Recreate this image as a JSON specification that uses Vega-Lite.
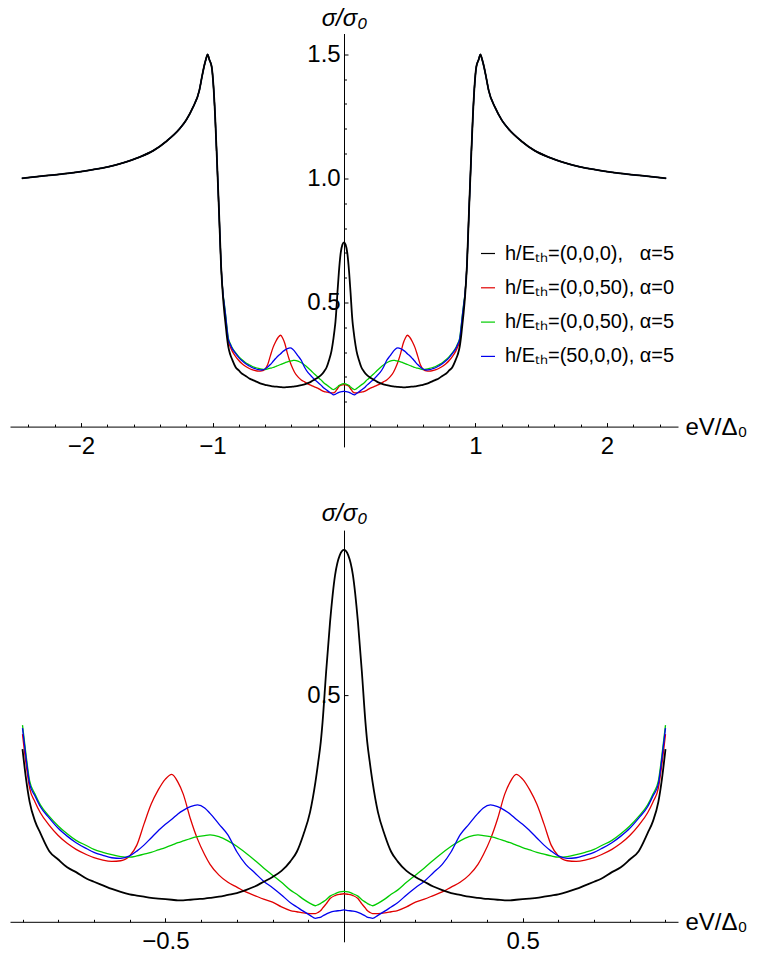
{
  "$schema": "https://vega.github.io/schema/vega-lite/v6.json",
  "autosize": {"type": "pad"},
  "padding": {"left": 10, "top": 5.5, "right": 5, "bottom": 5},
  "background": "white",
  "config": {
    "view": {"stroke": null},
    "font": "Liberation Sans",
    "axis": {"labelFont": "Liberation Sans", "titleFont": "Liberation Sans", "labelFontSize": 24, "labelColor": "black", "domainColor": "black", "tickColor": "black", "grid": false, "domainWidth": 1, "tickWidth": 1, "titleColor": "black", "titleFontWeight": "normal", "titleFontSize": 24}
  },
  "datasets": {
    "curves": [
      {"x": -2.45, "k": 1.0, "r": 1.0, "g": 1.0, "b": 1.0},
      {"x": -2.3, "k": 1.009, "r": 1.009, "g": 1.009, "b": 1.009},
      {"x": -2.1, "k": 1.02, "r": 1.02, "g": 1.02, "b": 1.02},
      {"x": -1.9, "k": 1.036, "r": 1.036, "g": 1.036, "b": 1.036},
      {"x": -1.7, "k": 1.06, "r": 1.06, "g": 1.06, "b": 1.06},
      {"x": -1.55, "k": 1.087, "r": 1.087, "g": 1.087, "b": 1.087},
      {"x": -1.45, "k": 1.112, "r": 1.112, "g": 1.112, "b": 1.112},
      {"x": -1.35, "k": 1.15, "r": 1.15, "g": 1.15, "b": 1.15},
      {"x": -1.25, "k": 1.2, "r": 1.2, "g": 1.2, "b": 1.2},
      {"x": -1.2, "k": 1.235, "r": 1.235, "g": 1.235, "b": 1.235},
      {"x": -1.15, "k": 1.285, "r": 1.285, "g": 1.285, "b": 1.285},
      {"x": -1.1, "k": 1.355, "r": 1.355, "g": 1.355, "b": 1.355},
      {"x": -1.08, "k": 1.41, "r": 1.41, "g": 1.41, "b": 1.41},
      {"x": -1.065, "k": 1.449, "r": 1.449, "g": 1.449, "b": 1.449},
      {"x": -1.05, "k": 1.48, "r": 1.48, "g": 1.48, "b": 1.48},
      {"x": -1.037, "k": 1.5, "r": 1.5, "g": 1.5, "b": 1.5},
      {"x": -1.025, "k": 1.48, "r": 1.48, "g": 1.48, "b": 1.48},
      {"x": -1.006, "k": 1.449, "r": 1.449, "g": 1.449, "b": 1.449},
      {"x": -0.994, "k": 1.382, "r": 1.382, "g": 1.382, "b": 1.382},
      {"x": -0.98, "k": 1.25, "r": 1.25, "g": 1.25, "b": 1.25},
      {"x": -0.965, "k": 1.06, "r": 1.06, "g": 1.06, "b": 1.06},
      {"x": -0.95, "k": 0.86, "r": 0.86, "g": 0.86, "b": 0.86},
      {"x": -0.935, "k": 0.65, "r": 0.65, "g": 0.65, "b": 0.65},
      {"x": -0.92, "k": 0.52, "r": 0.53, "g": 0.535, "b": 0.535},
      {"x": -0.91, "k": 0.46, "r": 0.48, "g": 0.495, "b": 0.49},
      {"x": -0.9, "k": 0.41, "r": 0.435, "g": 0.45, "b": 0.445},
      {"x": -0.89, "k": 0.36, "r": 0.385, "g": 0.4, "b": 0.395},
      {"x": -0.88, "k": 0.322, "r": 0.345, "g": 0.357, "b": 0.352},
      {"x": -0.865, "k": 0.29, "r": 0.322, "g": 0.335, "b": 0.332},
      {"x": -0.85, "k": 0.27, "r": 0.304, "g": 0.317, "b": 0.314},
      {"x": -0.825, "k": 0.24, "r": 0.283, "g": 0.298, "b": 0.295},
      {"x": -0.8, "k": 0.226, "r": 0.266, "g": 0.282, "b": 0.278},
      {"x": -0.775, "k": 0.213, "r": 0.253, "g": 0.269, "b": 0.265},
      {"x": -0.75, "k": 0.205, "r": 0.243, "g": 0.258, "b": 0.254},
      {"x": -0.72, "k": 0.194, "r": 0.234, "g": 0.249, "b": 0.244},
      {"x": -0.7, "k": 0.189, "r": 0.229, "g": 0.243, "b": 0.238},
      {"x": -0.675, "k": 0.183, "r": 0.225, "g": 0.238, "b": 0.233},
      {"x": -0.65, "k": 0.177, "r": 0.223, "g": 0.234, "b": 0.229},
      {"x": -0.625, "k": 0.172, "r": 0.224, "g": 0.231, "b": 0.228},
      {"x": -0.6, "k": 0.168, "r": 0.232, "g": 0.23, "b": 0.232},
      {"x": -0.58, "k": 0.166, "r": 0.25, "g": 0.232, "b": 0.24},
      {"x": -0.56, "k": 0.164, "r": 0.285, "g": 0.235, "b": 0.25},
      {"x": -0.54, "k": 0.162, "r": 0.318, "g": 0.238, "b": 0.262},
      {"x": -0.52, "k": 0.161, "r": 0.342, "g": 0.242, "b": 0.274},
      {"x": -0.5, "k": 0.16, "r": 0.36, "g": 0.246, "b": 0.285},
      {"x": -0.482, "k": 0.159, "r": 0.368, "g": 0.25, "b": 0.293},
      {"x": -0.465, "k": 0.158, "r": 0.355, "g": 0.254, "b": 0.302},
      {"x": -0.45, "k": 0.158, "r": 0.335, "g": 0.257, "b": 0.308},
      {"x": -0.43, "k": 0.159, "r": 0.294, "g": 0.261, "b": 0.314},
      {"x": -0.41, "k": 0.16, "r": 0.26, "g": 0.264, "b": 0.317},
      {"x": -0.39, "k": 0.161, "r": 0.234, "g": 0.266, "b": 0.312},
      {"x": -0.375, "k": 0.162, "r": 0.218, "g": 0.267, "b": 0.303},
      {"x": -0.35, "k": 0.164, "r": 0.2, "g": 0.264, "b": 0.285},
      {"x": -0.325, "k": 0.167, "r": 0.188, "g": 0.257, "b": 0.267},
      {"x": -0.3, "k": 0.17, "r": 0.18, "g": 0.248, "b": 0.239},
      {"x": -0.275, "k": 0.175, "r": 0.172, "g": 0.237, "b": 0.218},
      {"x": -0.25, "k": 0.181, "r": 0.166, "g": 0.225, "b": 0.204},
      {"x": -0.225, "k": 0.189, "r": 0.16, "g": 0.212, "b": 0.19},
      {"x": -0.2, "k": 0.197, "r": 0.155, "g": 0.2, "b": 0.179},
      {"x": -0.175, "k": 0.207, "r": 0.147, "g": 0.188, "b": 0.167},
      {"x": -0.15, "k": 0.223, "r": 0.141, "g": 0.175, "b": 0.154},
      {"x": -0.132, "k": 0.239, "r": 0.139, "g": 0.168, "b": 0.147},
      {"x": -0.114, "k": 0.267, "r": 0.137, "g": 0.16, "b": 0.14},
      {"x": -0.095, "k": 0.305, "r": 0.136, "g": 0.153, "b": 0.133},
      {"x": -0.08, "k": 0.355, "r": 0.136, "g": 0.149, "b": 0.128},
      {"x": -0.072, "k": 0.389, "r": 0.138, "g": 0.151, "b": 0.129},
      {"x": -0.065, "k": 0.422, "r": 0.141, "g": 0.153, "b": 0.13},
      {"x": -0.06, "k": 0.455, "r": 0.145, "g": 0.155, "b": 0.132},
      {"x": -0.05, "k": 0.539, "r": 0.152, "g": 0.159, "b": 0.135},
      {"x": -0.039, "k": 0.622, "r": 0.161, "g": 0.165, "b": 0.138},
      {"x": -0.025, "k": 0.7, "r": 0.166, "g": 0.169, "b": 0.14},
      {"x": -0.012, "k": 0.733, "r": 0.168, "g": 0.172, "b": 0.141},
      {"x": 0, "k": 0.742, "r": 0.169, "g": 0.173, "b": 0.142},
      {"x": 0.012, "k": 0.733, "r": 0.168, "g": 0.172, "b": 0.141},
      {"x": 0.025, "k": 0.7, "r": 0.166, "g": 0.169, "b": 0.14},
      {"x": 0.039, "k": 0.622, "r": 0.161, "g": 0.165, "b": 0.138},
      {"x": 0.05, "k": 0.539, "r": 0.152, "g": 0.159, "b": 0.135},
      {"x": 0.06, "k": 0.455, "r": 0.145, "g": 0.155, "b": 0.132},
      {"x": 0.065, "k": 0.422, "r": 0.141, "g": 0.153, "b": 0.13},
      {"x": 0.072, "k": 0.389, "r": 0.138, "g": 0.151, "b": 0.129},
      {"x": 0.08, "k": 0.355, "r": 0.136, "g": 0.149, "b": 0.128},
      {"x": 0.095, "k": 0.305, "r": 0.136, "g": 0.153, "b": 0.133},
      {"x": 0.114, "k": 0.267, "r": 0.137, "g": 0.16, "b": 0.14},
      {"x": 0.132, "k": 0.239, "r": 0.139, "g": 0.168, "b": 0.147},
      {"x": 0.15, "k": 0.223, "r": 0.141, "g": 0.175, "b": 0.154},
      {"x": 0.175, "k": 0.207, "r": 0.147, "g": 0.188, "b": 0.167},
      {"x": 0.2, "k": 0.197, "r": 0.155, "g": 0.2, "b": 0.179},
      {"x": 0.225, "k": 0.189, "r": 0.16, "g": 0.212, "b": 0.19},
      {"x": 0.25, "k": 0.181, "r": 0.166, "g": 0.225, "b": 0.204},
      {"x": 0.275, "k": 0.175, "r": 0.172, "g": 0.237, "b": 0.218},
      {"x": 0.3, "k": 0.17, "r": 0.18, "g": 0.248, "b": 0.239},
      {"x": 0.325, "k": 0.167, "r": 0.188, "g": 0.257, "b": 0.267},
      {"x": 0.35, "k": 0.164, "r": 0.2, "g": 0.264, "b": 0.285},
      {"x": 0.375, "k": 0.162, "r": 0.218, "g": 0.267, "b": 0.303},
      {"x": 0.39, "k": 0.161, "r": 0.234, "g": 0.266, "b": 0.312},
      {"x": 0.41, "k": 0.16, "r": 0.26, "g": 0.264, "b": 0.317},
      {"x": 0.43, "k": 0.159, "r": 0.294, "g": 0.261, "b": 0.314},
      {"x": 0.45, "k": 0.158, "r": 0.335, "g": 0.257, "b": 0.308},
      {"x": 0.465, "k": 0.158, "r": 0.355, "g": 0.254, "b": 0.302},
      {"x": 0.482, "k": 0.159, "r": 0.368, "g": 0.25, "b": 0.293},
      {"x": 0.5, "k": 0.16, "r": 0.36, "g": 0.246, "b": 0.285},
      {"x": 0.52, "k": 0.161, "r": 0.342, "g": 0.242, "b": 0.274},
      {"x": 0.54, "k": 0.162, "r": 0.318, "g": 0.238, "b": 0.262},
      {"x": 0.56, "k": 0.164, "r": 0.285, "g": 0.235, "b": 0.25},
      {"x": 0.58, "k": 0.166, "r": 0.25, "g": 0.232, "b": 0.24},
      {"x": 0.6, "k": 0.168, "r": 0.232, "g": 0.23, "b": 0.232},
      {"x": 0.625, "k": 0.172, "r": 0.224, "g": 0.231, "b": 0.228},
      {"x": 0.65, "k": 0.177, "r": 0.223, "g": 0.234, "b": 0.229},
      {"x": 0.675, "k": 0.183, "r": 0.225, "g": 0.238, "b": 0.233},
      {"x": 0.7, "k": 0.189, "r": 0.229, "g": 0.243, "b": 0.238},
      {"x": 0.72, "k": 0.194, "r": 0.234, "g": 0.249, "b": 0.244},
      {"x": 0.75, "k": 0.205, "r": 0.243, "g": 0.258, "b": 0.254},
      {"x": 0.775, "k": 0.213, "r": 0.253, "g": 0.269, "b": 0.265},
      {"x": 0.8, "k": 0.226, "r": 0.266, "g": 0.282, "b": 0.278},
      {"x": 0.825, "k": 0.24, "r": 0.283, "g": 0.298, "b": 0.295},
      {"x": 0.85, "k": 0.27, "r": 0.304, "g": 0.317, "b": 0.314},
      {"x": 0.865, "k": 0.29, "r": 0.322, "g": 0.335, "b": 0.332},
      {"x": 0.88, "k": 0.322, "r": 0.345, "g": 0.357, "b": 0.352},
      {"x": 0.89, "k": 0.36, "r": 0.385, "g": 0.4, "b": 0.395},
      {"x": 0.9, "k": 0.41, "r": 0.435, "g": 0.45, "b": 0.445},
      {"x": 0.91, "k": 0.46, "r": 0.48, "g": 0.495, "b": 0.49},
      {"x": 0.92, "k": 0.52, "r": 0.53, "g": 0.535, "b": 0.535},
      {"x": 0.935, "k": 0.65, "r": 0.65, "g": 0.65, "b": 0.65},
      {"x": 0.95, "k": 0.86, "r": 0.86, "g": 0.86, "b": 0.86},
      {"x": 0.965, "k": 1.06, "r": 1.06, "g": 1.06, "b": 1.06},
      {"x": 0.98, "k": 1.25, "r": 1.25, "g": 1.25, "b": 1.25},
      {"x": 0.994, "k": 1.382, "r": 1.382, "g": 1.382, "b": 1.382},
      {"x": 1.006, "k": 1.449, "r": 1.449, "g": 1.449, "b": 1.449},
      {"x": 1.025, "k": 1.48, "r": 1.48, "g": 1.48, "b": 1.48},
      {"x": 1.037, "k": 1.5, "r": 1.5, "g": 1.5, "b": 1.5},
      {"x": 1.05, "k": 1.48, "r": 1.48, "g": 1.48, "b": 1.48},
      {"x": 1.065, "k": 1.449, "r": 1.449, "g": 1.449, "b": 1.449},
      {"x": 1.08, "k": 1.41, "r": 1.41, "g": 1.41, "b": 1.41},
      {"x": 1.1, "k": 1.355, "r": 1.355, "g": 1.355, "b": 1.355},
      {"x": 1.15, "k": 1.285, "r": 1.285, "g": 1.285, "b": 1.285},
      {"x": 1.2, "k": 1.235, "r": 1.235, "g": 1.235, "b": 1.235},
      {"x": 1.25, "k": 1.2, "r": 1.2, "g": 1.2, "b": 1.2},
      {"x": 1.35, "k": 1.15, "r": 1.15, "g": 1.15, "b": 1.15},
      {"x": 1.45, "k": 1.112, "r": 1.112, "g": 1.112, "b": 1.112},
      {"x": 1.55, "k": 1.087, "r": 1.087, "g": 1.087, "b": 1.087},
      {"x": 1.7, "k": 1.06, "r": 1.06, "g": 1.06, "b": 1.06},
      {"x": 1.9, "k": 1.036, "r": 1.036, "g": 1.036, "b": 1.036},
      {"x": 2.1, "k": 1.02, "r": 1.02, "g": 1.02, "b": 1.02},
      {"x": 2.3, "k": 1.009, "r": 1.009, "g": 1.009, "b": 1.009},
      {"x": 2.45, "k": 1.0, "r": 1.0, "g": 1.0, "b": 1.0}
    ]
  },
  "bounds": "flush",
  "spacing": 82.6,
  "resolve": {"scale": {"color": "shared"}},
  "vconcat": [
    {
      "width": 668,
      "height": 413.4,
      "data": {"name": "curves"},
      "transform": [{"fold": ["k", "r", "g", "b"], "as": ["s", "v"]}],
      "encoding": {
        "x": {"field": "x", "type": "quantitative",
          "scale": {"domain": [-2.54, 2.54], "nice": false, "zero": false},
          "axis": {
            "orient": "bottom", "offset": -20.3, "title": "eV/Δ₀", "format": ".0f",
            "values": [-2.4, -2.2, -2, -1.8, -1.6, -1.4, -1.2, -1, -0.8, -0.6, -0.4, -0.2, 0.2, 0.4, 0.6, 0.8, 1, 1.2, 1.4, 1.6, 1.8, 2, 2.2, 2.4],
            "labelExpr": "(datum.value == -2 || datum.value == -1 || datum.value == 1 || datum.value == 2) ? datum.label : ''",
            "tickSize": {"condition": {"test": "datum.value == -2 || datum.value == -1 || datum.value == 1 || datum.value == 2", "value": -4}, "value": -2.5},
            "labelPadding": 12, "labelFlush": false, "labelOverlap": false, "labelBound": false,
            "titleX": 675, "titleY": 1, "titleAlign": "left", "titleBaseline": "middle", "titleAngle": 0, "titlePadding": 0
          }
        },
        "y": {"field": "v", "type": "quantitative",
          "scale": {"domain": [-0.082, 1.584], "nice": false, "zero": false},
          "axis": {
            "orient": "left", "offset": -334, "title": "σ/σ₀", "format": ".1f",
            "values": [0.1, 0.2, 0.3, 0.4, 0.5, 0.6, 0.7, 0.8, 0.9, 1, 1.1, 1.2, 1.3, 1.4, 1.5],
            "labelExpr": "(datum.value == 0.5 || datum.value == 1 || datum.value == 1.5) ? datum.label : ''",
            "tickSize": {"condition": {"test": "datum.value == 0.5 || datum.value == 1 || datum.value == 1.5", "value": -4}, "value": -2.5},
            "labelPadding": 7.8, "labelFlush": false, "labelOverlap": false, "labelBound": false,
            "titleX": 0, "titleY": -8.3, "titleAlign": "center", "titleBaseline": "alphabetic", "titleAngle": 0, "titleFontStyle": "italic", "titlePadding": 0
          }
        },
        "color": {"field": "s", "type": "nominal",
          "scale": {"domain": ["k", "r", "g", "b"], "range": ["#000000", "#e00000", "#00cc00", "#0000ee"]},
          "legend": {
            "orient": "none", "legendX": 468, "legendY": 210, "title": null,
            "symbolType": "stroke", "symbolSize": 196, "symbolStrokeWidth": 1.2,
            "labelFont": "Liberation Sans", "labelFontSize": 20, "labelColor": "black", "labelOffset": 7, "rowPadding": 14.3, "labelLimit": 400,
            "labelExpr": "datum.value == 'k' ? 'h/Eₜₕ=(0,0,0),\u00a0\u00a0 α=5' : datum.value == 'r' ? 'h/Eₜₕ=(0,0,50), α=0' : datum.value == 'g' ? 'h/Eₜₕ=(0,0,50), α=5' : 'h/Eₜₕ=(50,0,0), α=5'"
          }
        }
      },
      "layer": [
        {"transform": [{"filter": "datum.s != 'k'"}], "mark": {"type": "line", "strokeWidth": 1.3, "interpolate": "monotone"}},
        {"transform": [{"filter": "datum.s == 'k'"}], "mark": {"type": "line", "strokeWidth": 1.8, "interpolate": "monotone"}}
      ]
    },
    {
      "width": 668,
      "height": 411.7,
      "data": {"name": "curves"},
      "transform": [{"filter": "abs(datum.x) <= 0.9001"}, {"fold": ["k", "r", "g", "b"], "as": ["s", "v"]}],
      "encoding": {
        "x": {"field": "x", "type": "quantitative",
          "scale": {"domain": [-0.935, 0.935], "nice": false, "zero": false},
          "axis": {
            "orient": "bottom", "offset": -20, "title": "eV/Δ₀", "format": ".1f",
            "values": [-0.9, -0.8, -0.7, -0.6, -0.5, -0.4, -0.3, -0.2, -0.1, 0.1, 0.2, 0.3, 0.4, 0.5, 0.6, 0.7, 0.8, 0.9],
            "labelExpr": "(datum.value == -0.5 || datum.value == 0.5) ? datum.label : ''",
            "tickSize": {"condition": {"test": "datum.value == -0.5 || datum.value == 0.5", "value": -4}, "value": -2.5},
            "labelPadding": 12, "labelFlush": false, "labelOverlap": false, "labelBound": false,
            "titleX": 675, "titleY": 1, "titleAlign": "left", "titleBaseline": "middle", "titleAngle": 0, "titlePadding": 0
          }
        },
        "y": {"field": "v", "type": "quantitative",
          "scale": {"domain": [0.0889, 0.775], "nice": false, "zero": false},
          "axis": {
            "orient": "left", "offset": -334, "title": "σ/σ₀", "format": ".1f",
            "values": [0.5],
            "tickSize": -4,
            "labelPadding": 7.8, "labelFlush": false, "labelOverlap": false, "labelBound": false,
            "titleX": 0, "titleY": -10, "titleAlign": "center", "titleBaseline": "alphabetic", "titleAngle": 0, "titleFontStyle": "italic", "titlePadding": 0
          }
        },
        "color": {"field": "s", "type": "nominal",
          "scale": {"domain": ["k", "r", "g", "b"], "range": ["#000000", "#e00000", "#00cc00", "#0000ee"]},
          "legend": {
            "orient": "none", "legendX": 468, "legendY": 210, "title": null,
            "symbolType": "stroke", "symbolSize": 196, "symbolStrokeWidth": 1.2,
            "labelFont": "Liberation Sans", "labelFontSize": 20, "labelColor": "black", "labelOffset": 7, "rowPadding": 14.3, "labelLimit": 400,
            "labelExpr": "datum.value == 'k' ? 'h/Eₜₕ=(0,0,0),\u00a0\u00a0 α=5' : datum.value == 'r' ? 'h/Eₜₕ=(0,0,50), α=0' : datum.value == 'g' ? 'h/Eₜₕ=(0,0,50), α=5' : 'h/Eₜₕ=(50,0,0), α=5'"
          }
        }
      },
      "layer": [
        {"transform": [{"filter": "datum.s != 'k'"}], "mark": {"type": "line", "strokeWidth": 1.3, "interpolate": "monotone"}},
        {"transform": [{"filter": "datum.s == 'k'"}], "mark": {"type": "line", "strokeWidth": 1.8, "interpolate": "monotone"}}
      ]
    }
  ]
}
